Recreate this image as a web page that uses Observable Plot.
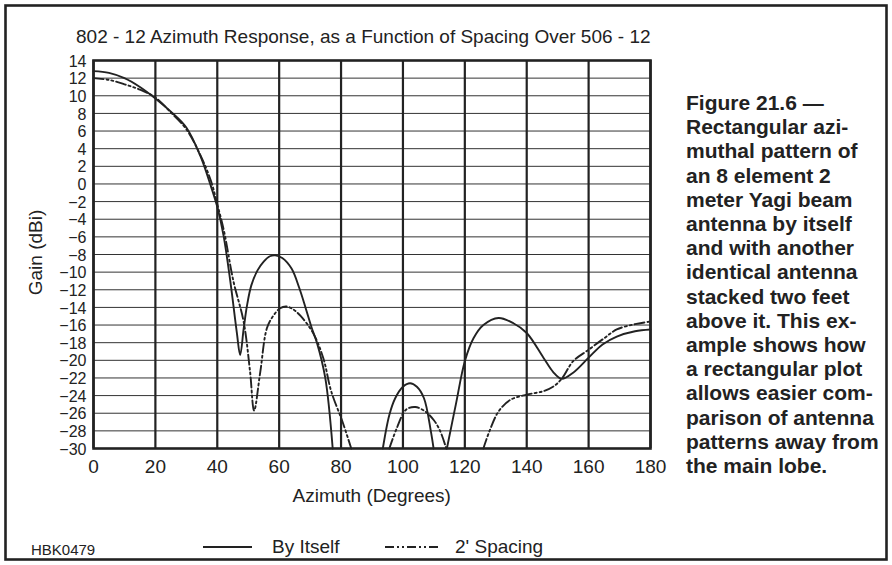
<!DOCTYPE html>
<html>
<head>
<meta charset="utf-8">
<script src="https://cdn.jsdelivr.net/npm/d3@7"></script>
<script src="https://cdn.jsdelivr.net/npm/@observablehq/plot@0.6"></script>
<style>
  html, body { margin: 0; padding: 0; background: #fff; }
  #wrap { position: relative; width: 892px; height: 565px; overflow: hidden; font-family: "Liberation Sans", Arial, Helvetica, sans-serif; color: #222; }
  #wrap > svg { position: absolute; left: 0; top: 0; }
  #overlay { pointer-events: none; }
</style>
</head>
<body>
<div id="wrap"></div>
<script>
// ---- Data ----
const xTicks = [0, 20, 40, 60, 80, 100, 120, 140, 160, 180];
const yTicks = [14, 12, 10, 8, 6, 4, 2, 0, -2, -4, -6, -8, -10, -12, -14, -16, -18, -20, -22, -24, -26, -28, -30];

// "By Itself" (solid). NaN marks where the curve drops below the -30 dB floor.
const azimuthSolid = [0, 5, 10, 15, 20, 25, 30, 34.5, 37.7, 40, 42, 44.2, 46.3, 47.4, 48.5, 49.6, 51, 53, 55, 57, 58.7, 61, 64, 66.5, 68.5, 70.5, 72.2, 74.9, 77.3,
  NaN, 93.5, 95.6, 97.5, 100, 102.3, 104.5, 106.8, 109, 109.9,
  NaN, 114.2, 117.1, 120, 122.8, 126, 130.9, 135.7, 140, 145.4, 148.5, 151.3, 155, 160, 164.5, 169.1, 175, 180];
const gainSolid = [12.8, 12.6, 12.0, 11.0, 9.7, 8.2, 6.4, 3.2, 0, -2.6, -5.8, -11, -16.8, -19.4, -16.5, -13.8, -11.5, -9.8, -8.8, -8.2, -8.1, -8.4, -9.6, -11.8, -14, -16.3, -18, -22, -30,
  NaN, -30, -26.2, -24.3, -23, -22.6, -23, -24.3, -28, -30,
  NaN, -30, -25, -20.1, -17.5, -16, -15.2, -15.8, -16.9, -19.7, -21.3, -22.1, -21.4, -19.7, -18.2, -17.3, -16.7, -16.5];

// "2' Spacing" (dash-dot-dot)
const azimuthSpaced = [0, 5, 10, 15, 20, 25, 30, 34.5, 38, 40, 42.2, 45.2, 48.5, 50.6, 51.9, 53.9, 56, 58, 60.3, 62.2, 64, 67, 71.1, 74.3, 76.8, 80.5, 83.3,
  NaN, 95.6, 98, 101, 104, 107.2, 110, 112, 114,
  NaN, 126, 128, 130.9, 134.6, 140, 145.4, 148.5, 151.3, 155, 160, 165, 169.1, 175, 180];
const gainSpaced = [12.0, 11.8, 11.3, 10.7, 9.8, 8.1, 6.2, 3.3, 0.3, -2.3, -5.4, -11, -15.6, -21.3, -25.7, -21.3, -16.4, -15, -14.1, -13.9, -14.1, -15, -17, -19.8, -23.5, -27, -30,
  NaN, -30, -27.7, -25.6, -25.3, -25.8, -26.8, -28, -30,
  NaN, -30, -28, -25.8, -24.5, -23.9, -23.5, -23, -22.1, -20.1, -18.8, -17.5, -16.5, -15.9, -15.6];

const seriesNames = ["By Itself", "2' Spacing"];
const titleText = "802 - 12 Azimuth Response, as a Function of Spacing Over 506 - 12";
const xLabel = "Azimuth (Degrees)";
const yLabel = "Gain (dBi)";
const figId = "HBK0479";
const captionLines = [
  "Figure 21.6 —",
  "Rectangular azi-",
  "muthal pattern of",
  "an 8 element 2",
  "meter Yagi beam",
  "antenna by itself",
  "and with another",
  "identical antenna",
  "stacked two feet",
  "above it. This ex-",
  "ample shows how",
  "a rectangular plot",
  "allows easier com-",
  "parison of antenna",
  "patterns away from",
  "the main lobe."
];

// ---- Build tables ----
const solid = azimuthSolid.map((x, i) => ({x, y: gainSolid[i]}));
const spaced = azimuthSpaced.map((x, i) => ({x, y: gainSpaced[i]}));
const dashPattern = "10,3,2,3,2,3";
const ink = "#222";

const chart = Plot.plot({
  width: 892,
  height: 565,
  marginLeft: 93,
  marginRight: 242,
  marginTop: 60,
  marginBottom: 117,
  style: {fontFamily: '"Liberation Sans", Arial, Helvetica, sans-serif', fontSize: "16px", color: ink, background: "transparent", overflow: "visible"},
  x: {domain: [0, 180]},
  y: {domain: [-30, 14]},
  marks: [
    Plot.ruleY(yTicks, {stroke: "#333", strokeWidth: 1}),
    Plot.ruleX(xTicks, {stroke: ink, strokeWidth: 2.2}),
    Plot.line(solid, {x: "x", y: "y", curve: "catmull-rom", stroke: ink, strokeWidth: 1.9}),
    Plot.line(spaced, {x: "x", y: "y", curve: "catmull-rom", stroke: ink, strokeWidth: 1.9, strokeDasharray: dashPattern}),
    Plot.frame({stroke: ink, strokeWidth: 2.6}),
    Plot.axisX({ticks: xTicks, tickSize: 0, tickPadding: 11, label: null, fontSize: 19}),
    Plot.axisY({ticks: yTicks, tickSize: 0, tickPadding: 7, label: null, fontSize: 16, dy: 1})
  ]
});

const wrap = document.getElementById("wrap");
wrap.appendChild(chart);

// ---- Overlay: title, axis labels, legend, caption, border ----
const ns = "http://www.w3.org/2000/svg";
const ov = document.createElementNS(ns, "svg");
ov.setAttribute("id", "overlay");
ov.setAttribute("width", 892);
ov.setAttribute("height", 565);
ov.style.fontFamily = '"Liberation Sans", Arial, Helvetica, sans-serif';
wrap.appendChild(ov);

function txt(s, x, y, opts = {}) {
  const t = document.createElementNS(ns, "text");
  t.textContent = s;
  t.setAttribute("x", x);
  t.setAttribute("y", y);
  t.setAttribute("fill", ink);
  t.setAttribute("font-size", opts.size || 19);
  if (opts.weight) t.setAttribute("font-weight", opts.weight);
  if (opts.anchor) t.setAttribute("text-anchor", opts.anchor);
  if (opts.transform) t.setAttribute("transform", opts.transform);
  ov.appendChild(t);
  return t;
}
function line(x1, y1, x2, y2, dash) {
  const l = document.createElementNS(ns, "line");
  l.setAttribute("x1", x1); l.setAttribute("y1", y1);
  l.setAttribute("x2", x2); l.setAttribute("y2", y2);
  l.setAttribute("stroke", ink);
  l.setAttribute("stroke-width", 1.9);
  if (dash) l.setAttribute("stroke-dasharray", dash);
  ov.appendChild(l);
}

// outer border
const r = document.createElementNS(ns, "rect");
r.setAttribute("x", 5.5); r.setAttribute("y", 5.5);
r.setAttribute("width", 881); r.setAttribute("height", 554);
r.setAttribute("fill", "none"); r.setAttribute("stroke", ink); r.setAttribute("stroke-width", 2.6);
ov.appendChild(r);

txt(titleText, 76, 43.3, {size: 19});
txt(xLabel, 292.5, 501.7, {size: 19});
txt(yLabel, 0, 0, {size: 19, anchor: "middle", transform: "translate(41.5,252.5) rotate(-90)"});

txt(figId, 31, 555, {size: 15});
line(203, 547, 252, 547);
txt(seriesNames[0], 272, 553, {size: 19});
line(385, 547, 440, 547, "9,3,2,3,2,3");
txt(seriesNames[1], 455, 553, {size: 19});

captionLines.forEach((s, i) => txt(s, 686, 110 + i * 24.2, {size: 21, weight: "bold"}));
</script>
</body>
</html>
